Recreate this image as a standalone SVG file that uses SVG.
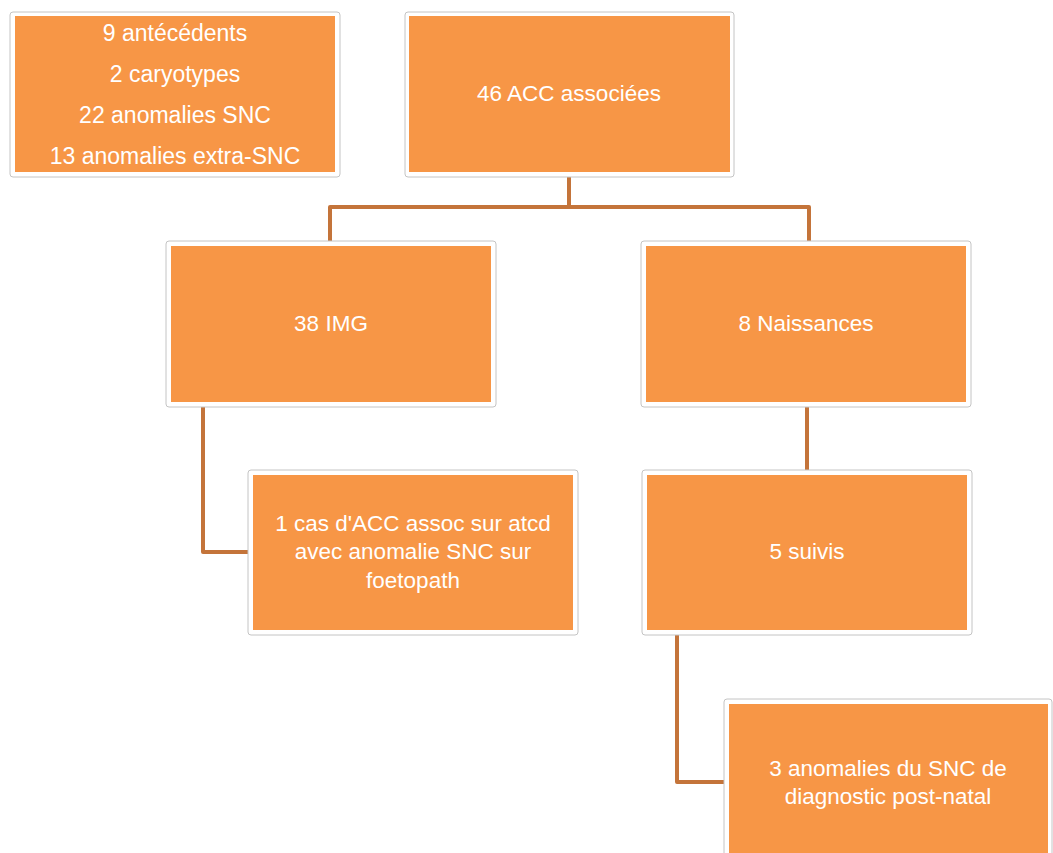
<svg xmlns="http://www.w3.org/2000/svg" width="1053" height="853" viewBox="0 0 1053 853">
<style>
.frame{fill:#ffffff;stroke:#c4c4c4;stroke-width:1}
.fill{fill:#F79646}
.t{font-family:"Liberation Sans",Arial,sans-serif;font-size:22.5px;fill:#ffffff;text-anchor:middle}
.c{fill:none;stroke:#C4743A;stroke-width:4;stroke-linejoin:round}
</style>
<rect width="1053" height="853" fill="#ffffff"/>
<g id="connectors">
<path class="c" d="M569 177 V207 M330 241 V207 H809 V241"/>
<path class="c" d="M203 407 V552 H248"/>
<path class="c" d="M807 407 V470"/>
<path class="c" d="M677 635 V782 H724"/>
</g>
<g id="n-summary">
<rect class="frame" x="10" y="12" width="330" height="165" rx="3"/>
<rect class="fill" x="15" y="16" width="320" height="156"/>
<text class="t" x="175" y="41" style="font-size:23px">9 antécédents</text>
<text class="t" x="175" y="82" style="font-size:23px">2 caryotypes</text>
<text class="t" x="175" y="123" style="font-size:23px">22 anomalies SNC</text>
<text class="t" x="175" y="164" style="font-size:23px">13 anomalies extra-SNC</text>
</g>
<g id="n-acc">
<rect class="frame" x="405" y="12" width="329" height="165" rx="3"/>
<rect class="fill" x="409" y="16" width="321" height="156"/>
<text class="t" x="569" y="101">46 ACC associées</text>
</g>
<g id="n-img">
<rect class="frame" x="166" y="241" width="330" height="166" rx="3"/>
<rect class="fill" x="171" y="246" width="320" height="156"/>
<text class="t" x="331" y="331">38 IMG</text>
</g>
<g id="n-naissances">
<rect class="frame" x="641" y="241" width="330" height="166" rx="3"/>
<rect class="fill" x="646" y="246" width="320" height="156"/>
<text class="t" x="806" y="331">8 Naissances</text>
</g>
<g id="n-cas">
<rect class="frame" x="248" y="470" width="330" height="165" rx="3"/>
<rect class="fill" x="253" y="475" width="320" height="155"/>
<text class="t" x="413" y="531">1 cas d'ACC assoc sur atcd</text>
<text class="t" x="413" y="559">avec anomalie SNC sur</text>
<text class="t" x="413" y="588">foetopath</text>
</g>
<g id="n-suivis">
<rect class="frame" x="642" y="470" width="330" height="165" rx="3"/>
<rect class="fill" x="647" y="475" width="320" height="155"/>
<text class="t" x="807" y="559">5 suivis</text>
</g>
<g id="n-postnatal">
<rect class="frame" x="724" y="699" width="328" height="170" rx="3"/>
<rect class="fill" x="729" y="704" width="319" height="160"/>
<text class="t" x="888" y="776">3 anomalies du SNC de</text>
<text class="t" x="888" y="804">diagnostic post-natal</text>
</g>
</svg>
